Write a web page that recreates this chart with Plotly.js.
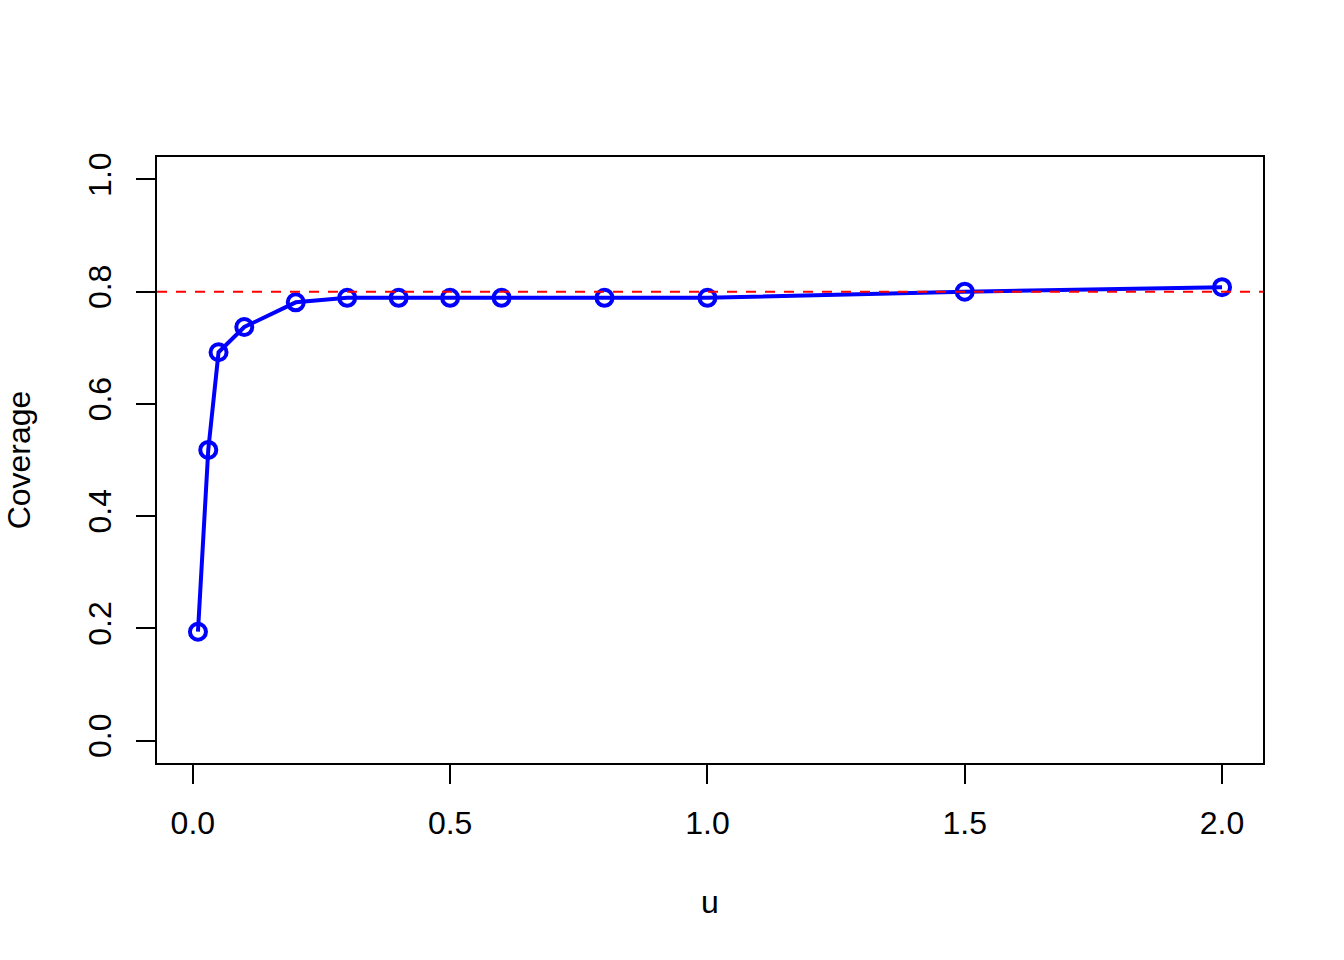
<!DOCTYPE html>
<html>
<head>
<meta charset="utf-8">
<script src="https://cdn.plot.ly/plotly-3.0.1.min.js"></script>
<style>html,body{margin:0;padding:0;background:#fff;}#chart{width:1344px;height:960px;}</style>
</head>
<body>
<div id="chart"></div>
<script>
const u = [0.01, 0.03, 0.05, 0.1, 0.2, 0.3, 0.4, 0.5, 0.6, 0.8, 1.0, 1.5, 2.0];
const coverage = [0.194, 0.518, 0.692, 0.737, 0.781, 0.789, 0.789, 0.789, 0.789, 0.789, 0.789, 0.800, 0.808];
const target = 0.8;
const xTicks = [0, 0.5, 1.0, 1.5, 2.0];
const yTicks = [0, 0.2, 0.4, 0.6, 0.8, 1.0];

const font = {family: 'Liberation Sans, Arial, Helvetica, sans-serif', size: 32, color: '#000'};

const trace = {
  x: u, y: coverage, type: 'scatter', mode: 'lines+markers',
  line: {color: '#0000FF', width: 4},
  marker: {symbol: 'circle-open', size: 16, color: '#0000FF', line: {color: '#0000FF', width: 4}},
  showlegend: false, hoverinfo: 'x+y'
};

const layout = {
  width: 1344, height: 960,
  margin: {l: 157, r: 81, t: 157, b: 197, pad: 0},
  paper_bgcolor: '#fff', plot_bgcolor: '#fff',
  font: font,
  showlegend: false,
  xaxis: {
    range: [-0.0696, 2.0796], autorange: false,
    tickvals: xTicks, tickformat: '.1f',
    ticks: 'outside', ticklen: 19, tickwidth: 2, tickcolor: '#000',
    showline: true, mirror: true, linecolor: '#000', linewidth: 2,
    showgrid: false, zeroline: false,
    tickfont: font, ticklabelstandoff: 12,
    title: {text: 'u', font: font, standoff: 50},
    automargin: false
  },
  yaxis: {
    range: [-0.04, 1.04], autorange: false,
    tickvals: yTicks, tickformat: '.1f', tickangle: -90,
    ticks: 'outside', ticklen: 19, tickwidth: 2, tickcolor: '#000',
    showline: true, mirror: true, linecolor: '#000', linewidth: 2,
    showgrid: false, zeroline: false,
    tickfont: font, ticklabelstandoff: 12,
    title: {text: 'Coverage', font: font, standoff: 42},
    automargin: false
  },
  shapes: [{
    type: 'line', xref: 'paper', x0: 0, x1: 1, yref: 'y', y0: target, y1: target,
    line: {color: '#FF0000', width: 2, dash: '10px,9px'}, layer: 'above'
  }]
};

Plotly.newPlot('chart', [trace], layout, {staticPlot: true, displayModeBar: false});
</script>
</body>
</html>
